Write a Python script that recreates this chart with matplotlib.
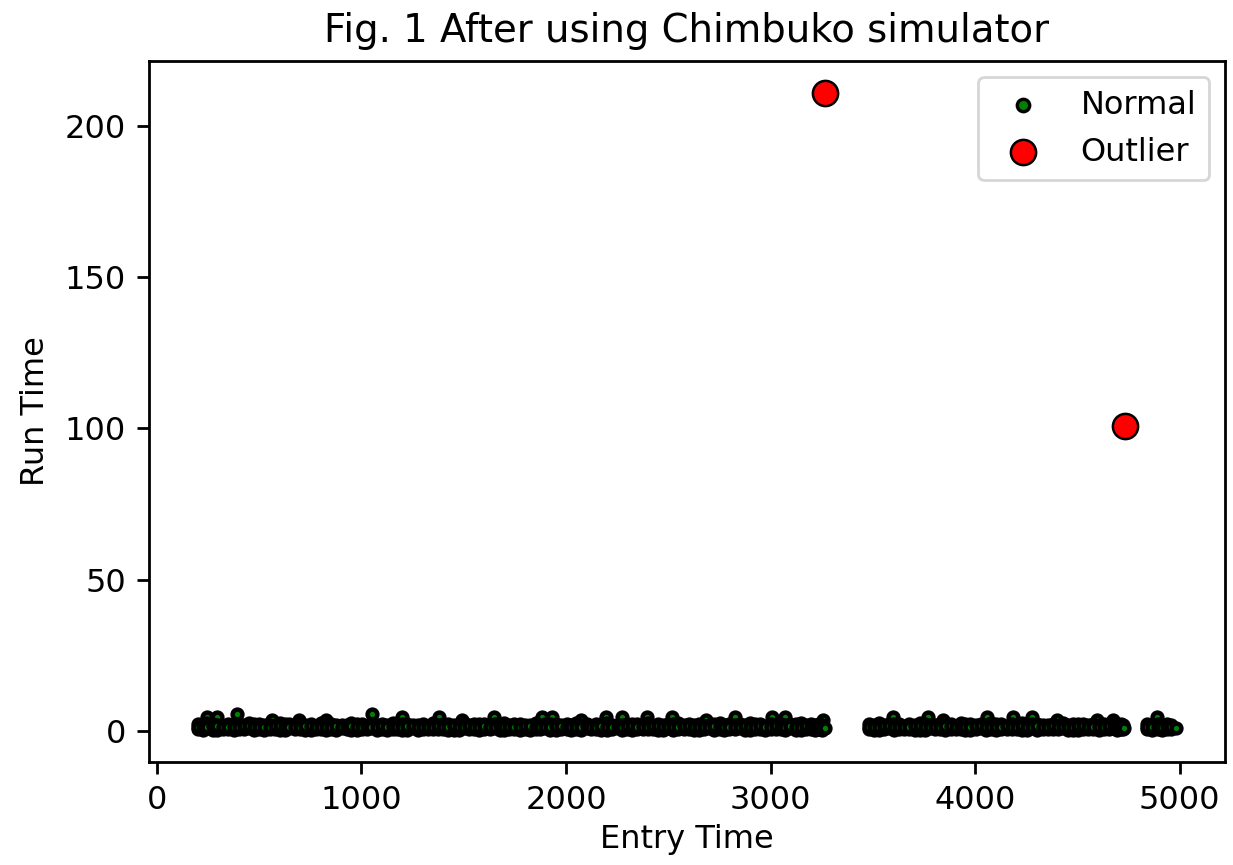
import matplotlib
matplotlib.use("Agg")
import matplotlib.pyplot as plt

# normal points, three runs of entry times (gaps at ~3300-3470 and ~4750-4830)
seg1_entry = [200, 247, 296, 349, 401, 452, 498, 551, 603, 648,
              699, 752, 801, 849, 903, 950, 1002, 1049, 1101, 1152,
              1198, 1250, 1303, 1349, 1398, 1451, 1502, 1548, 1600, 1653,
              1699, 1748, 1802, 1851, 1897, 1950, 2003, 2049, 2101, 2148,
              2199, 2252, 2300, 2347, 2402, 2451, 2498, 2549, 2603, 2650,
              2697, 2751, 2799, 2852, 2901, 2948, 3002, 3050, 3097, 3151,
              3199, 3238]
seg1_mid_entry = [224, 272, 322, 375, 426, 475, 524, 577, 626, 673,
                  725, 776, 825, 876, 927, 976, 1025, 1075, 1126, 1175,
                  1224, 1277, 1326, 1373, 1425, 1476, 1525, 1574, 1627, 1676,
                  1723, 1775, 1826, 1874, 1923, 1977, 2026, 2075, 2124, 2173,
                  2226, 2276, 2323, 2375, 2426, 2474, 2523, 2576, 2626, 2673,
                  2724, 2775, 2826, 2877, 2924, 2975, 3026, 3073, 3124, 3175,
                  3219, 3250]
seg1_low = [0.6, 0.9, 0.5, 0.8, 0.7, 1.0, 0.6, 0.8, 0.5, 0.9,
            0.7, 0.5, 0.8, 0.6, 0.9, 0.5, 0.7, 1.0, 0.6, 0.8,
            0.5, 0.9, 0.7, 0.6, 0.8, 0.5, 1.0, 0.7, 0.6, 0.9,
            0.5, 0.8, 0.7, 0.6, 0.9, 0.5, 0.8, 0.6, 1.0, 0.7,
            0.5, 0.9, 0.6, 0.8, 0.7, 0.5, 0.9, 0.6, 0.8, 0.5,
            1.0, 0.7, 0.6, 0.9, 0.5, 0.8, 0.7, 0.6, 0.9, 0.5,
            0.8, 0.7]
seg1_mid_low = [0.5, 0.4, 0.7, 0.5, 0.6, 0.4, 0.5, 0.7, 0.4, 0.6,
                0.5, 0.7, 0.4, 0.5, 0.6, 0.4, 0.7, 0.5, 0.4, 0.6,
                0.5, 0.4, 0.6, 0.7, 0.5, 0.4, 0.6, 0.5, 0.7, 0.4,
                0.6, 0.5, 0.4, 0.7, 0.5, 0.6, 0.4, 0.5, 0.7, 0.4,
                0.6, 0.5, 0.4, 0.7, 0.6, 0.5, 0.4, 0.6, 0.5, 0.7,
                0.4, 0.5, 0.6, 0.4, 0.7, 0.5, 0.6, 0.4, 0.5, 0.6,
                0.4, 0.5]
seg1_high = [2.3, 2.6, 2.1, 2.5, 2.2, 2.7, 2.4, 2.0, 2.6, 2.3,
             2.5, 2.2, 2.6, 2.4, 2.1, 2.7, 2.3, 2.5, 2.2, 2.6,
             2.4, 2.0, 2.5, 2.7, 2.3, 2.1, 2.6, 2.4, 2.2, 2.5,
             2.7, 2.3, 2.1, 2.6, 2.4, 2.5, 2.2, 2.7, 2.3, 2.4,
             2.6, 2.1, 2.5, 2.3, 2.7, 2.2, 2.4, 2.6, 2.3, 2.5,
             2.1, 2.6, 2.4, 2.2, 2.7, 2.3, 2.5, 2.4, 2.2, 2.6,
             2.3, 2.4]
seg1_mid_high = [1.9, 2.2, 1.8, 2.1, 2.0, 2.3, 1.9, 1.8, 2.2, 2.0,
                 2.1, 1.8, 2.3, 1.9, 2.0, 2.2, 1.8, 2.1, 1.9, 2.0,
                 2.2, 1.9, 1.8, 2.1, 2.3, 2.0, 1.9, 2.2, 1.8, 2.1,
                 2.0, 2.3, 1.9, 1.8, 2.2, 2.1, 2.0, 1.9, 1.8, 2.2,
                 2.1, 2.0, 2.3, 1.9, 1.8, 2.1, 2.2, 2.0, 1.9, 1.8,
                 2.3, 2.1, 2.0, 1.9, 2.2, 1.8, 2.1, 2.0, 2.3, 1.9,
                 2.0, 2.1]
seg1_core = [1.5, 1.4, 1.6, 1.5, 1.3, 1.6, 1.4, 1.5, 1.7, 1.4,
             1.5, 1.6, 1.4, 1.3, 1.5, 1.6, 1.4, 1.5, 1.7, 1.5,
             1.4, 1.6, 1.5, 1.3, 1.4, 1.6, 1.5, 1.4, 1.6, 1.5,
             1.3, 1.5, 1.6, 1.4, 1.5, 1.7, 1.4, 1.5, 1.6, 1.4,
             1.5, 1.3, 1.6, 1.5, 1.4, 1.6, 1.5, 1.4, 1.7, 1.5,
             1.4, 1.6, 1.5, 1.3, 1.5, 1.6, 1.4, 1.5, 1.6, 1.4,
             1.5, 1.4]
seg1_mid_core = [1.4, 1.6, 1.5, 1.4, 1.7, 1.5, 1.3, 1.6, 1.4, 1.5,
                 1.6, 1.4, 1.5, 1.7, 1.4, 1.5, 1.6, 1.3, 1.5, 1.4,
                 1.6, 1.5, 1.4, 1.7, 1.5, 1.4, 1.6, 1.5, 1.3, 1.6,
                 1.4, 1.5, 1.7, 1.5, 1.4, 1.6, 1.5, 1.3, 1.5, 1.6,
                 1.4, 1.5, 1.6, 1.4, 1.7, 1.5, 1.4, 1.6, 1.5, 1.3,
                 1.6, 1.4, 1.5, 1.7, 1.4, 1.5, 1.6, 1.4, 1.5, 1.6,
                 1.4, 1.5]

seg2_entry = [3482, 3530, 3581, 3628, 3679, 3731, 3780, 3829, 3882, 3930,
              3977, 4031, 4080, 4128, 4181, 4229, 4278, 4330, 4379, 4428,
              4481, 4530, 4577, 4631, 4680, 4712]
seg2_mid_entry = [3506, 3555, 3604, 3653, 3705, 3756, 3804, 3855, 3906, 3953,
                  4004, 4055, 4104, 4155, 4205, 4253, 4304, 4355, 4404, 4455,
                  4505, 4553, 4604, 4655, 4696, 4722]
seg2_low = [0.7, 0.5, 0.9, 0.6, 0.8, 0.5, 1.0, 0.7, 0.6, 0.8,
            0.5, 0.9, 0.7, 0.6, 0.8, 0.5, 0.9, 0.7, 0.6, 1.0,
            0.5, 0.8, 0.7, 0.6, 0.9, 0.7]
seg2_mid_low = [0.4, 0.6, 0.5, 0.7, 0.4, 0.5, 0.6, 0.4, 0.7, 0.5,
                0.6, 0.4, 0.5, 0.7, 0.6, 0.4, 0.5, 0.6, 0.7, 0.4,
                0.5, 0.6, 0.4, 0.7, 0.5, 0.6]
seg2_high = [2.4, 2.6, 2.2, 2.5, 2.3, 2.7, 2.1, 2.5, 2.4, 2.6,
             2.3, 2.2, 2.6, 2.5, 2.4, 2.7, 2.3, 2.1, 2.5, 2.6,
             2.4, 2.2, 2.5, 2.3, 2.4, 2.2]
seg2_mid_high = [2.0, 1.9, 2.2, 1.8, 2.1, 2.3, 1.9, 2.0, 1.8, 2.2,
                 2.1, 1.9, 2.3, 1.8, 2.0, 2.1, 2.2, 1.9, 1.8, 2.0,
                 2.3, 2.1, 1.9, 2.2, 1.8, 2.0]
seg2_core = [1.5, 1.4, 1.6, 1.5, 1.3, 1.6, 1.5, 1.4, 1.7, 1.5,
             1.4, 1.6, 1.5, 1.3, 1.5, 1.6, 1.4, 1.5, 1.6, 1.4,
             1.5, 1.7, 1.4, 1.5, 1.6, 1.4]
seg2_mid_core = [1.4, 1.6, 1.5, 1.4, 1.6, 1.5, 1.3, 1.6, 1.4, 1.5,
                 1.7, 1.4, 1.5, 1.6, 1.4, 1.5, 1.6, 1.3, 1.5, 1.4,
                 1.6, 1.5, 1.4, 1.6, 1.5, 1.4]

seg3_entry = [4842, 4893, 4938]
seg3_mid_entry = [4867, 4916, 4960]
seg3_low = [0.6, 0.8, 0.7]
seg3_mid_low = [0.5, 0.4, 0.6]
seg3_high = [2.4, 2.5, 2.3]
seg3_mid_high = [2.0, 1.9, 2.1]
seg3_core = [1.5, 1.4, 1.6]
seg3_mid_core = [1.4, 1.5, 1.5]

# taller points sticking out of the band
bump_entry = [243, 293, 390, 561, 694, 828, 1053, 1199, 1380, 1492,
              1649, 1884, 1933, 2075, 2197, 2276, 2398, 2516, 2687, 2824,
              3005, 3069, 3255, 3598, 3769, 3843, 4058, 4185, 4278, 4401,
              4597, 4675, 4890]
bump_run = [4.7, 4.7, 5.6, 3.6, 3.6, 3.6, 5.6, 4.6, 4.6, 3.6,
            4.6, 4.6, 4.6, 3.6, 4.6, 4.6, 4.6, 4.6, 3.6, 4.6,
            4.6, 4.6, 3.6, 4.6, 4.6, 3.6, 4.6, 4.6, 4.6, 3.6,
            3.6, 3.6, 4.6]

# last point of each run (drawn on top)
last_entry = [3265, 4730, 4983]
last_run = [1.0, 1.0, 1.0]

outlier_entry = [3268, 4734]
outlier_run = [210.8, 100.6]


def weave(a, b):
    out = []
    for p, q in zip(a, b):
        out += [p, q]
    return out


segments = [
    (seg1_entry, seg1_mid_entry, seg1_high, seg1_mid_high, seg1_low, seg1_mid_low, seg1_core, seg1_mid_core),
    (seg2_entry, seg2_mid_entry, seg2_high, seg2_mid_high, seg2_low, seg2_mid_low, seg2_core, seg2_mid_core),
    (seg3_entry, seg3_mid_entry, seg3_high, seg3_mid_high, seg3_low, seg3_mid_low, seg3_core, seg3_mid_core),
]

# draw order: bumps, top rows, bottom rows, then the middle rows on top
normal_x = list(bump_entry)
normal_y = list(bump_run)
for row in (2, 4, 6):
    for seg in segments:
        normal_x += weave(seg[0], seg[1])
        normal_y += weave(seg[row], seg[row + 1])
normal_x += last_entry
normal_y += last_run

fs = 23
fig = plt.figure(figsize=(12.33, 8.65), dpi=100)
ax = fig.add_axes([0.1208, 0.1194, 0.8727, 0.8101])

ax.scatter(normal_x, normal_y, s=50, c='green', edgecolors='black',
           linewidths=3.2, label='Normal')
ax.scatter(outlier_entry, outlier_run, s=330, c='red', edgecolors='black',
           linewidths=1.8, label='Outlier')

ax.set_title('Fig. 1 After using Chimbuko simulator', fontsize=27.8, pad=14)
ax.set_xlabel('Entry Time', fontsize=fs, labelpad=6)
ax.set_ylabel('Run Time', fontsize=fs, labelpad=10)
ax.set_xticks([0, 1000, 2000, 3000, 4000, 5000])
ax.set_yticks([0, 50, 100, 150, 200])
ax.tick_params(labelsize=fs, length=8.6, width=2, pad=8)
for sp in ax.spines.values():
    sp.set_linewidth(2)

leg = ax.legend(fontsize=fs, loc='upper right', borderpad=0.4, handletextpad=0.8)
leg.get_frame().set_linewidth(2)
# the legend dot shows more of its green face than the packed band does
h = leg.legend_handles[0]
h.set_sizes([80])
h.set_linewidth(2.4)

fig.savefig('out.png', dpi=100)
